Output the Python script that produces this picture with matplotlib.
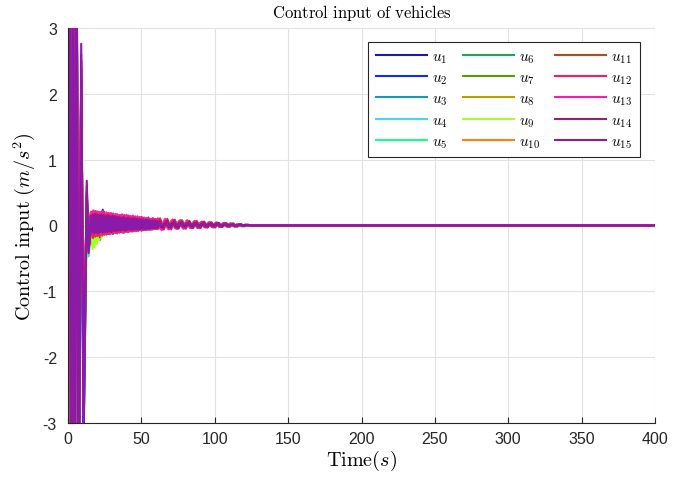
import matplotlib
matplotlib.use("Agg")
import matplotlib.pyplot as plt

plt.rcParams['mathtext.fontset'] = 'cm'
plt.rcParams['axes.unicode_minus'] = False
plt.rcParams['font.family'] = ['Liberation Sans', 'DejaVu Sans']

# knot times (s) shared by all vehicles
t_early = [0.0, 1.0, 2.2, 3.4, 4.6, 5.8, 7.2, 9.0, 10.6, 12.8, 14.0]
t_mid = [15.0, 15.75, 16.5, 17.25, 18.0, 18.75, 19.5, 20.25, 21.0, 21.75, 22.5, 23.25,
         24.0, 24.75, 25.5, 26.25, 27.0, 27.75, 28.5, 29.25, 30.0, 30.75, 31.5, 32.25,
         33.0, 33.75, 34.5, 35.25, 36.0, 36.75, 37.5, 38.25, 39.0, 39.75, 40.5, 41.25,
         42.0, 42.75, 43.5, 44.25, 45.0, 45.75, 46.5, 47.25, 48.0, 48.75, 49.5, 50.25,
         51.0, 51.75, 52.5, 53.25, 54.0, 54.75, 55.5, 56.25, 57.0, 57.75, 58.5, 59.25]
t_late = [60.5, 63, 65.5, 68, 70.5, 73, 75.5, 78, 80.5, 83, 85.5, 88, 90.5,
          93, 95.5, 98, 100.5, 103, 105.5, 108, 110.5, 113, 115.5, 118, 120.5, 123]
t_end = [400]

# per-vehicle phase lag (s) of the decaying oscillation
t_lag = [0.0, 1.2, 2.4, 0.6, 1.8, 0.3, 1.5, 2.1, 0.9, 0.15, 1.35, 2.25, 0.75, 1.95, 0.45]

# control input samples (m/s^2): early, mid, late, end
u1 = [0, 5.5, -5.5, 5.5, -5.5, 5.2, -5.4, 1.9, -3.3, 0.30, -0.30,
      0.16, -0.14, 0.19, -0.11, 0.15, -0.15, 0.17, -0.10, 0.20, -0.12, 0.14, -0.13,
      0.15, -0.10, 0.13, -0.12, 0.16, -0.09, 0.14, -0.11, 0.15, -0.08, 0.13, -0.10,
      0.12, -0.09, 0.14, -0.08, 0.11, -0.09, 0.13, -0.07, 0.12, -0.08, 0.10, -0.07,
      0.11, -0.07, 0.10, -0.08, 0.12, -0.06, 0.10, -0.07, 0.09, -0.06, 0.10, -0.05,
      0.09, -0.06, 0.08, -0.05, 0.09, -0.06, 0.08, -0.05, 0.07, -0.05, 0.08, -0.04,
      0.08, -0.05, 0.07, -0.04, 0.07, -0.04, 0.06, -0.03, 0.06, -0.03, 0.05, -0.03, 0.05,
      -0.02, 0.04, -0.02, 0.04, -0.02, 0.03, -0.01, 0.03, -0.01, 0.02, -0.01, 0.01, 0.00, 0]
u2 = [0, 5.6, -5.4, 5.4, -5.6, 5.1, -5.2, 1.8, -3.2, 0.25, -0.28,
      0.15, -0.12, 0.18, -0.14, 0.16, -0.11, 0.19, -0.12, 0.17, -0.10, 0.24, -0.13,
      0.14, -0.11, 0.16, -0.10, 0.13, -0.12, 0.15, -0.09, 0.14, -0.10, 0.12, -0.09,
      0.13, -0.08, 0.12, -0.10, 0.14, -0.07, 0.11, -0.08, 0.13, -0.09, 0.11, -0.06,
      0.10, -0.08, 0.12, -0.06, 0.11, -0.07, 0.09, -0.06, 0.10, -0.07, 0.09, -0.05,
      0.08, -0.06, 0.09, -0.05, 0.08, -0.06, 0.07, -0.04, 0.08, -0.05, 0.07, -0.04,
      0.08, -0.04, 0.07, -0.04, 0.06, -0.04, 0.06, -0.03, 0.05, -0.03, 0.05, -0.03, 0.04,
      -0.02, 0.04, -0.02, 0.03, -0.02, 0.03, -0.01, 0.02, -0.01, 0.02, -0.01, 0.01, 0.00, 0]
u3 = [0, 5.2, -5.3, 5.3, -5.1, 5.0, -5.0, 2.0, -2.9, 0.30, -0.32,
      0.14, -0.17, 0.16, -0.13, 0.18, -0.12, 0.15, -0.14, 0.17, -0.11, 0.16, -0.12,
      0.13, -0.12, 0.15, -0.10, 0.14, -0.11, 0.12, -0.09, 0.15, -0.10, 0.13, -0.08,
      0.12, -0.09, 0.11, -0.08, 0.13, -0.09, 0.12, -0.07, 0.10, -0.08, 0.12, -0.07,
      0.10, -0.07, 0.11, -0.06, 0.09, -0.07, 0.10, -0.06, 0.11, -0.05, 0.09, -0.06,
      0.08, -0.05, 0.09, -0.06, 0.08, -0.05, 0.07, -0.05, 0.08, -0.04, 0.07, -0.04,
      0.07, -0.05, 0.07, -0.04, 0.06, -0.04, 0.06, -0.03, 0.05, -0.03, 0.05, -0.02, 0.04,
      -0.02, 0.04, -0.02, 0.03, -0.01, 0.03, -0.01, 0.02, -0.01, 0.02, -0.01, 0.01, 0.00, 0]
u4 = [0, 5.0, -5.1, 5.1, -5.0, 4.9, -4.8, 2.1, -2.6, 0.35, -0.47,
      0.12, -0.24, 0.15, -0.18, 0.14, -0.15, 0.16, -0.13, 0.15, -0.12, 0.14, -0.14,
      0.14, -0.11, 0.13, -0.12, 0.15, -0.09, 0.12, -0.10, 0.14, -0.09, 0.13, -0.10,
      0.11, -0.08, 0.13, -0.09, 0.12, -0.07, 0.11, -0.08, 0.12, -0.07, 0.10, -0.08,
      0.11, -0.06, 0.10, -0.07, 0.09, -0.06, 0.11, -0.05, 0.10, -0.06, 0.09, -0.05,
      0.09, -0.05, 0.08, -0.06, 0.07, -0.05, 0.08, -0.04, 0.07, -0.05, 0.07, -0.04,
      0.08, -0.04, 0.07, -0.04, 0.06, -0.03, 0.06, -0.03, 0.05, -0.03, 0.04, -0.02, 0.04,
      -0.02, 0.04, -0.02, 0.03, -0.02, 0.03, -0.01, 0.02, -0.01, 0.01, -0.01, 0.01, 0.00, 0]
u5 = [0, 4.9, -4.9, 5.0, -4.9, 4.8, -4.7, 2.2, -2.1, 0.40, -0.45,
      0.13, -0.32, 0.15, -0.26, 0.16, -0.18, 0.14, -0.15, 0.17, -0.13, 0.15, -0.12,
      0.15, -0.11, 0.14, -0.12, 0.13, -0.10, 0.15, -0.09, 0.13, -0.11, 0.14, -0.09,
      0.12, -0.08, 0.13, -0.09, 0.11, -0.08, 0.12, -0.07, 0.13, -0.08, 0.11, -0.07,
      0.10, -0.07, 0.11, -0.06, 0.10, -0.07, 0.09, -0.06, 0.10, -0.06, 0.09, -0.05,
      0.09, -0.05, 0.08, -0.05, 0.08, -0.06, 0.07, -0.04, 0.08, -0.05, 0.07, -0.04,
      0.08, -0.05, 0.07, -0.04, 0.07, -0.04, 0.06, -0.03, 0.05, -0.03, 0.05, -0.03, 0.04,
      -0.02, 0.04, -0.02, 0.03, -0.02, 0.03, -0.01, 0.02, -0.01, 0.02, -0.01, 0.01, 0.00, 0]
u6 = [0, 4.8, -4.8, 4.9, -4.8, 4.7, -4.6, 2.2, -2.0, 0.38, -0.40,
      0.14, -0.28, 0.16, -0.22, 0.15, -0.17, 0.17, -0.14, 0.16, -0.12, 0.15, -0.13,
      0.14, -0.12, 0.16, -0.10, 0.13, -0.11, 0.15, -0.10, 0.14, -0.09, 0.12, -0.10,
      0.13, -0.08, 0.12, -0.09, 0.14, -0.08, 0.11, -0.09, 0.12, -0.07, 0.11, -0.08,
      0.11, -0.07, 0.10, -0.07, 0.11, -0.06, 0.10, -0.07, 0.09, -0.06, 0.10, -0.05,
      0.08, -0.06, 0.09, -0.05, 0.08, -0.05, 0.08, -0.04, 0.07, -0.05, 0.08, -0.04,
      0.08, -0.05, 0.07, -0.05, 0.07, -0.04, 0.06, -0.04, 0.05, -0.03, 0.05, -0.03, 0.04,
      -0.02, 0.04, -0.02, 0.03, -0.02, 0.03, -0.01, 0.02, -0.01, 0.02, -0.01, 0.01, 0.00, 0]
u7 = [0, 4.8, -4.7, 4.8, -4.7, 4.6, -4.5, 2.3, -2.05, 0.40, -0.38,
      0.15, -0.30, 0.17, -0.24, 0.16, -0.20, 0.18, -0.22, 0.15, -0.16, 0.16, -0.14,
      0.15, -0.12, 0.14, -0.13, 0.16, -0.10, 0.13, -0.11, 0.15, -0.10, 0.14, -0.09,
      0.13, -0.09, 0.12, -0.10, 0.14, -0.08, 0.12, -0.08, 0.11, -0.09, 0.12, -0.07,
      0.11, -0.08, 0.10, -0.07, 0.12, -0.06, 0.10, -0.07, 0.11, -0.06, 0.09, -0.06,
      0.09, -0.06, 0.10, -0.05, 0.08, -0.05, 0.09, -0.05, 0.08, -0.04, 0.07, -0.05,
      0.09, -0.05, 0.08, -0.04, 0.07, -0.04, 0.07, -0.04, 0.06, -0.03, 0.05, -0.03, 0.05,
      -0.02, 0.04, -0.02, 0.04, -0.02, 0.03, -0.01, 0.03, -0.01, 0.02, -0.01, 0.01, 0.00, 0]
u8 = [0, 4.7, -4.7, 4.7, -4.6, 4.5, -4.4, 2.3, -2.1, 0.42, -0.35,
      0.18, -0.20, 0.19, -0.16, 0.17, -0.15, 0.20, -0.13, 0.18, -0.12, 0.17, -0.11,
      0.16, -0.12, 0.17, -0.10, 0.15, -0.11, 0.16, -0.10, 0.14, -0.09, 0.16, -0.10,
      0.14, -0.09, 0.13, -0.08, 0.15, -0.09, 0.13, -0.08, 0.12, -0.07, 0.14, -0.08,
      0.12, -0.07, 0.11, -0.08, 0.12, -0.07, 0.11, -0.06, 0.12, -0.06, 0.10, -0.06,
      0.10, -0.06, 0.09, -0.05, 0.10, -0.06, 0.09, -0.05, 0.08, -0.05, 0.09, -0.04,
      0.09, -0.05, 0.08, -0.05, 0.08, -0.04, 0.07, -0.04, 0.06, -0.03, 0.06, -0.03, 0.05,
      -0.03, 0.04, -0.02, 0.04, -0.02, 0.03, -0.02, 0.03, -0.01, 0.02, -0.01, 0.01, 0.00, 0]
u9 = [0, 4.7, -4.6, 4.7, -4.6, 4.5, -4.4, 2.3, -1.95, 0.42, -0.40,
      0.14, -0.36, 0.16, -0.33, 0.18, -0.28, 0.15, -0.22, 0.17, -0.20, 0.16, -0.15,
      0.15, -0.12, 0.14, -0.11, 0.16, -0.10, 0.13, -0.12, 0.15, -0.09, 0.14, -0.10,
      0.12, -0.09, 0.13, -0.08, 0.12, -0.09, 0.14, -0.07, 0.12, -0.08, 0.11, -0.07,
      0.11, -0.07, 0.12, -0.06, 0.10, -0.07, 0.11, -0.06, 0.10, -0.06, 0.09, -0.05,
      0.09, -0.05, 0.08, -0.06, 0.09, -0.05, 0.08, -0.05, 0.07, -0.04, 0.08, -0.04,
      0.08, -0.04, 0.07, -0.04, 0.07, -0.04, 0.06, -0.03, 0.05, -0.03, 0.05, -0.02, 0.04,
      -0.02, 0.04, -0.02, 0.03, -0.01, 0.03, -0.01, 0.02, -0.01, 0.02, -0.01, 0.01, 0.00, 0]
u10 = [0, 4.8, -4.8, 4.8, -4.7, 4.6, -4.5, 2.4, -2.0, 0.45, -0.33,
       0.19, -0.17, 0.21, -0.15, 0.18, -0.14, 0.20, -0.13, 0.19, -0.15, 0.18, -0.12,
       0.17, -0.13, 0.18, -0.11, 0.16, -0.12, 0.17, -0.10, 0.15, -0.11, 0.16, -0.10,
       0.15, -0.10, 0.14, -0.09, 0.15, -0.10, 0.13, -0.08, 0.14, -0.09, 0.13, -0.08,
       0.13, -0.08, 0.12, -0.07, 0.13, -0.08, 0.11, -0.07, 0.12, -0.06, 0.11, -0.07,
       0.10, -0.06, 0.11, -0.06, 0.10, -0.05, 0.09, -0.06, 0.10, -0.05, 0.09, -0.05,
       0.10, -0.05, 0.09, -0.05, 0.08, -0.04, 0.07, -0.04, 0.07, -0.04, 0.06, -0.03, 0.05,
       -0.03, 0.05, -0.02, 0.04, -0.02, 0.03, -0.02, 0.03, -0.01, 0.02, -0.01, 0.01, 0.00, 0]
u11 = [0, 5.0, -5.0, 5.0, -4.9, 4.8, -4.7, 2.4, -2.3, 0.48, -0.35,
       0.18, -0.19, 0.20, -0.17, 0.19, -0.16, 0.18, -0.18, 0.20, -0.15, 0.17, -0.14,
       0.16, -0.14, 0.18, -0.13, 0.17, -0.12, 0.16, -0.13, 0.15, -0.11, 0.17, -0.12,
       0.14, -0.11, 0.15, -0.10, 0.14, -0.11, 0.13, -0.09, 0.15, -0.10, 0.13, -0.09,
       0.12, -0.09, 0.13, -0.08, 0.12, -0.08, 0.11, -0.07, 0.12, -0.08, 0.11, -0.07,
       0.10, -0.07, 0.11, -0.06, 0.10, -0.06, 0.09, -0.06, 0.10, -0.05, 0.09, -0.05,
       0.10, -0.06, 0.09, -0.05, 0.08, -0.05, 0.08, -0.04, 0.07, -0.04, 0.06, -0.03, 0.05,
       -0.03, 0.05, -0.03, 0.04, -0.02, 0.04, -0.02, 0.03, -0.01, 0.02, -0.01, 0.01, 0.00, 0]
u12 = [0, 5.2, -5.1, 5.1, -5.1, 5.0, -4.9, 2.5, -2.4, 0.50, -0.36,
       0.20, -0.14, 0.22, -0.15, 0.21, -0.13, 0.20, -0.14, 0.19, -0.13, 0.21, -0.12,
       0.18, -0.13, 0.19, -0.11, 0.17, -0.12, 0.18, -0.10, 0.17, -0.11, 0.16, -0.10,
       0.16, -0.10, 0.15, -0.11, 0.16, -0.09, 0.14, -0.10, 0.15, -0.08, 0.14, -0.09,
       0.13, -0.08, 0.14, -0.08, 0.12, -0.08, 0.13, -0.07, 0.12, -0.07, 0.11, -0.06,
       0.11, -0.06, 0.12, -0.06, 0.10, -0.06, 0.11, -0.05, 0.10, -0.05, 0.09, -0.05,
       0.11, -0.06, 0.10, -0.06, 0.09, -0.05, 0.08, -0.05, 0.07, -0.04, 0.07, -0.04, 0.06,
       -0.03, 0.05, -0.03, 0.04, -0.02, 0.04, -0.02, 0.03, -0.02, 0.02, -0.01, 0.01, 0.00, 0]
u13 = [0, 5.3, -5.3, 5.3, -5.2, 5.1, -5.0, 2.5, -2.5, 0.52, -0.38,
       0.21, -0.12, 0.23, -0.14, 0.22, -0.13, 0.21, -0.12, 0.20, -0.14, 0.22, -0.13,
       0.19, -0.12, 0.20, -0.11, 0.18, -0.13, 0.19, -0.10, 0.18, -0.11, 0.17, -0.10,
       0.17, -0.10, 0.16, -0.09, 0.17, -0.10, 0.15, -0.09, 0.16, -0.08, 0.15, -0.09,
       0.14, -0.08, 0.15, -0.08, 0.13, -0.08, 0.14, -0.07, 0.12, -0.07, 0.13, -0.06,
       0.12, -0.06, 0.11, -0.06, 0.12, -0.05, 0.10, -0.05, 0.11, -0.05, 0.10, -0.05,
       0.11, -0.07, 0.10, -0.06, 0.09, -0.05, 0.08, -0.05, 0.08, -0.04, 0.07, -0.04, 0.06,
       -0.03, 0.05, -0.03, 0.05, -0.02, 0.04, -0.02, 0.03, -0.02, 0.02, -0.01, 0.01, 0.00, 0]
u14 = [0, 5.6, -5.6, 5.6, -5.5, 5.4, -5.3, 2.6, -2.8, 0.60, -0.40,
       0.17, -0.12, 0.18, -0.11, 0.17, -0.12, 0.16, -0.10, 0.17, -0.11, 0.16, -0.09,
       0.15, -0.10, 0.16, -0.09, 0.14, -0.10, 0.15, -0.08, 0.14, -0.09, 0.13, -0.08,
       0.13, -0.08, 0.12, -0.07, 0.13, -0.08, 0.11, -0.07, 0.12, -0.06, 0.11, -0.07,
       0.11, -0.06, 0.11, -0.06, 0.10, -0.06, 0.10, -0.05, 0.10, -0.05, 0.09, -0.05,
       0.09, -0.05, 0.09, -0.05, 0.08, -0.04, 0.08, -0.04, 0.08, -0.04, 0.07, -0.04,
       0.08, -0.05, 0.08, -0.04, 0.07, -0.04, 0.06, -0.03, 0.06, -0.03, 0.05, -0.03, 0.05,
       -0.02, 0.04, -0.02, 0.04, -0.02, 0.03, -0.01, 0.02, -0.01, 0.02, -0.01, 0.01, 0.00, 0]
u15 = [0, 6.0, -6.0, 6.0, -5.8, 5.7, -5.5, 2.76, -3.4, 0.68, -0.42,
       0.15, -0.10, 0.13, -0.12, 0.16, -0.08, 0.13, -0.11, 0.12, -0.09, 0.14, -0.09,
       0.12, -0.10, 0.13, -0.08, 0.11, -0.09, 0.12, -0.07, 0.11, -0.08, 0.12, -0.06,
       0.11, -0.07, 0.10, -0.06, 0.11, -0.06, 0.10, -0.07, 0.10, -0.05, 0.11, -0.06,
       0.09, -0.06, 0.08, -0.06, 0.09, -0.05, 0.08, -0.06, 0.08, -0.05, 0.08, -0.05,
       0.08, -0.05, 0.08, -0.04, 0.07, -0.05, 0.07, -0.04, 0.07, -0.04, 0.06, -0.04,
       0.06, -0.03, 0.05, -0.03, 0.05, -0.03, 0.05, -0.02, 0.04, -0.02, 0.04, -0.02, 0.03,
       -0.02, 0.03, -0.01, 0.03, -0.01, 0.02, -0.01, 0.02, -0.01, 0.01, 0.00, 0.01, 0.00, 0]

series = [u1, u2, u3, u4, u5, u6, u7, u8, u9, u10, u11, u12, u13, u14, u15]
labels = [r'$u_{%d}$' % (i + 1) for i in range(15)]
colors = ['#1a1aa0', '#0a2cff', '#1a9bb5', '#3fd8ff', '#1aff80',
          '#1aa860', '#5c9a0f', '#b5a200', '#a5ff2a', '#ff8018',
          '#b84a1a', '#ff1a5a', '#ff1aa8', '#a01a78', '#8a1aa8']

fig = plt.figure(figsize=(6.97, 4.81), dpi=100)
ax = fig.add_axes([68 / 697, 1 - 424 / 481, 587 / 697, 395 / 481])

for u, lag, c, lab in zip(series, t_lag, colors, labels):
    # the lag only shifts the decaying part of the response
    tt = t_early + [t + lag for t in t_mid + t_late] + t_end
    ax.plot(tt, u, color=c, lw=1.5, label=lab)

ax.set_xlim(0, 400)
ax.set_ylim(-3, 3)
ax.set_xticks(range(0, 401, 50))
ax.set_yticks(range(-3, 4))
ax.grid(True, color='#e2e2e2', lw=0.8)
ax.set_axisbelow(True)
for s in ['top', 'right']:
    ax.spines[s].set_visible(False)
for s in ['left', 'bottom']:
    ax.spines[s].set_color('#262626')
    ax.spines[s].set_linewidth(0.8)
ax.tick_params(direction='in', length=4, width=0.8, labelsize=11.5, colors='#262626')
ax.tick_params(axis='y', pad=8)
ax.tick_params(axis='x', pad=6)

ax.set_title(r'$\mathrm{Control\ input\ of\ vehicles}$', fontsize=12, pad=8)
ax.set_xlabel(r'$\mathrm{Time}(s)$', fontsize=14.5, labelpad=1)
ax.set_ylabel(r'$\mathrm{Control\ input}\ (m/s^2)$', fontsize=14.5, labelpad=4)

leg = ax.legend(loc='upper right', bbox_to_anchor=((640 - 68) / 587, (424 - 43) / 395),
                ncol=3, fontsize=11, handlelength=3.35, handletextpad=0.35,
                columnspacing=0.95, labelspacing=0.36, borderaxespad=0,
                fancybox=False, framealpha=1, edgecolor='#262626', borderpad=0.5)
leg.get_frame().set_linewidth(0.8)

fig.savefig('out.png', dpi=100)
